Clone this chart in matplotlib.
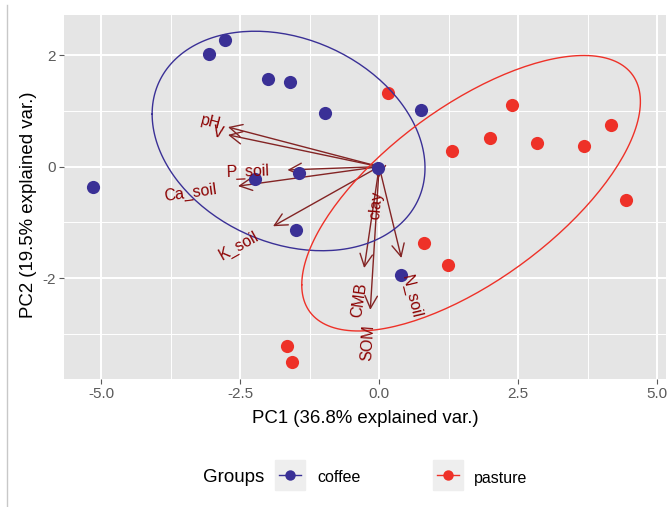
import numpy as np
import matplotlib
matplotlib.use("Agg")
import matplotlib.pyplot as plt
from matplotlib.lines import Line2D
from matplotlib.patches import Rectangle
from matplotlib.textpath import TextPath
from matplotlib.font_manager import FontProperties

plt.rcParams['font.family'] = ['Liberation Sans', 'DejaVu Sans']

# PCA scores (PC1, PC2) per sample
coffee_pc1 = [-5.14, -3.06, -2.77, -2.00, -1.60, -0.97, -2.23, -1.44, -1.49, -0.02, 0.76, 0.40]
coffee_pc2 = [-0.37, 2.02, 2.27, 1.57, 1.52, 0.96, -0.22, -0.12, -1.14, -0.03, 1.01, -1.95]
pasture_pc1 = [0.16, 2.39, 2.00, 1.31, 2.84, 3.69, 4.17, 4.44, 0.81, 1.24, -1.65, -1.56]
pasture_pc2 = [1.32, 1.10, 0.51, 0.28, 0.42, 0.37, 0.74, -0.60, -1.37, -1.77, -3.22, -3.51]

# variable loadings (arrow tips)
var_names = ['pH', 'V', 'P_soil', 'Ca_soil', 'K_soil', 'clay', 'CMB', 'SOM', 'N_soil']
var_pc1 = [-2.72, -2.72, -1.65, -2.54, -1.91, -0.02, -0.27, -0.16, 0.40]
var_pc2 = [0.71, 0.57, -0.06, -0.35, -1.07, -0.22, -1.82, -2.57, -1.64]

groups = ['coffee', 'pasture']
group_colors = {'coffee': '#3A3096', 'pasture': '#EE3128'}

W, H = 668, 507
fig = plt.figure(figsize=(W / 100, H / 100), dpi=100)
ax = fig.add_axes([64 / W, (H - 379) / H, (666 - 64) / W, (379 - 15) / H])
ax.set_xlim(-5.67, 5.16)
ax.set_ylim(-3.81, 2.72)
ax.set_facecolor('#E5E5E5')
for s in ax.spines.values():
    s.set_visible(False)

ax.set_xticks([-5, -2.5, 0, 2.5, 5])
ax.set_xticklabels(['-5.0', '-2.5', '0.0', '2.5', '5.0'])
ax.set_yticks([-2, 0, 2])
ax.set_yticklabels(['-2', '0', '2'])
ax.set_xticks([-3.75, -1.25, 1.25, 3.75], minor=True)
ax.set_yticks([-3, -1, 1], minor=True)
ax.tick_params(which='major', length=3.5, width=0.8, color='#5A5A5A',
               labelcolor='#5A5A5A', labelsize=11, pad=2.5)
ax.tick_params(which='minor', length=0)
ax.grid(which='major', color='white', lw=1.4)
ax.grid(which='minor', color='white', lw=0.7)
ax.set_axisbelow(True)

ax.set_xlabel('PC1 (36.8% explained var.)', fontsize=13.4, labelpad=6)
ax.set_ylabel('PC2 (19.5% explained var.)', fontsize=13.4)
ax.yaxis.set_label_coords(-0.045, 0.48)

# loading arrows
arrow_col = '#832424'
for name, vx, vy in zip(var_names, var_pc1, var_pc2):
    ax.annotate('', xy=(vx, vy), xytext=(0, 0),
                arrowprops=dict(arrowstyle='->,head_length=0.9,head_width=0.45',
                                color=arrow_col, lw=1.0, shrinkA=0, shrinkB=0,
                                mutation_scale=10),
                zorder=2)

# sample points
ax.scatter(coffee_pc1, coffee_pc2, s=90, color=group_colors['coffee'], lw=0, zorder=3)
ax.scatter(pasture_pc1, pasture_pc2, s=90, color=group_colors['pasture'], lw=0, zorder=3)

# 68% normal ellipses per group
r = np.sqrt(-2 * np.log(1 - 0.68))
theta = np.linspace(-np.pi, np.pi, 200)
circle = np.column_stack([np.cos(theta), np.sin(theta)])
for g, xs, ys in [('coffee', coffee_pc1, coffee_pc2), ('pasture', pasture_pc1, pasture_pc2)]:
    pts = np.column_stack([xs, ys])
    mu = pts.mean(axis=0)
    sigma = np.cov(pts.T)
    ell = circle @ np.linalg.cholesky(sigma).T * r + mu
    ax.plot(ell[:, 0], ell[:, 1], color=group_colors[g], lw=1.0, zorder=4)

# variable labels, rotated along each arrow
lab_size = 11.4
fp = FontProperties(family='Liberation Sans', size=lab_size)
for name, vx, vy in zip(var_names, var_pc1, var_pc2):
    ang = np.degrees(np.arctan(vy / vx))
    w = TextPath((0, 0), name, size=lab_size, prop=fp).get_extents().width
    gap = 0.43 * w
    n = np.hypot(vx, vy)
    ax.annotate(name, xy=(vx, vy), xytext=(gap * vx / n, gap * vy / n),
                textcoords='offset points', rotation=ang, rotation_mode='anchor',
                ha='right' if vx < 0 else 'left', va='center',
                color='#8B0000', fontsize=lab_size, zorder=5)

# legend at bottom
def fx(px):
    return px / W

def fy(py):
    return 1 - py / H

fig.text(fx(203), fy(478), 'Groups', fontsize=13.5, va='center', ha='left')
for g, kx, tx in [('coffee', 275, 317), ('pasture', 433, 474)]:
    fig.patches.append(Rectangle((fx(kx), fy(490)), 30 / W, 30 / H,
                                 transform=fig.transFigure, color='#EEEEEE', zorder=1))
    fig.lines.append(Line2D([fx(kx + 4), fx(kx + 26)], [fy(475), fy(475)],
                            transform=fig.transFigure, color=group_colors[g], lw=1.0, zorder=2))
    fig.lines.append(Line2D([fx(kx + 15)], [fy(475)], transform=fig.transFigure,
                            marker='o', ms=7.5, mew=0, color=group_colors[g], zorder=3))
    fig.text(fx(tx), fy(478), g, fontsize=11.5, va='center', ha='left')

# thin frame line on the left edge
fig.lines.append(Line2D([fx(6.5), fx(6.5)], [0, fy(5)], transform=fig.transFigure,
                        color='#C8C8C8', lw=1.0))

fig.savefig('out.png', dpi=100)
